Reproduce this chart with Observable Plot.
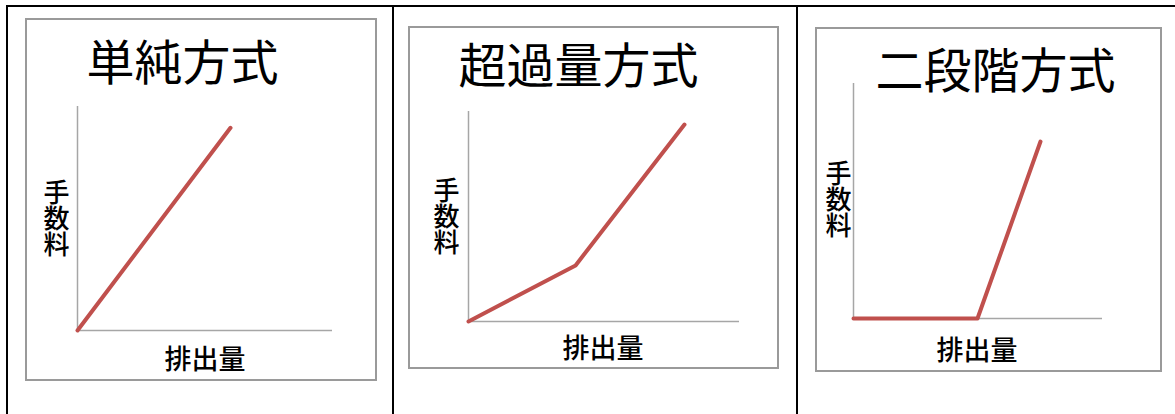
<!DOCTYPE html>
<html><head><meta charset="utf-8">
<script src="https://cdn.jsdelivr.net/npm/d3@7"></script>
<script src="https://cdn.jsdelivr.net/npm/@observablehq/plot@0.6"></script>
<style>
html,body{margin:0;padding:0;background:#fff;}
body{width:1175px;height:414px;position:relative;overflow:hidden;font-family:"Noto Sans CJK JP","Noto Sans",sans-serif;}
.abs{position:absolute;}
.title{font-size:48px;line-height:1;white-space:nowrap;text-align:center;color:#000;font-weight:400;}
.xl{font-size:27px;line-height:1;white-space:nowrap;text-align:center;color:#000;font-weight:500;}
.yl{font-size:26px;line-height:1;writing-mode:vertical-rl;color:#000;font-weight:500;}
</style></head>
<body>
<script>
// ---- data ----
const titles = ["単純方式", "超過量方式", "二段階方式"];
const xLabel = "排出量";
const yLabel = "手数料";
const simpleX = [0, 6];
const simpleY = [0, 9.05];
const excessX = [0, 3.95, 7.97];
const excessY = [0, 2.67, 9.38];
const twoStepX = [0, 4.98, 7.51];
const twoStepY = [0, 0, 7.53];
const seriesX = [simpleX, excessX, twoStepX];
const seriesY = [simpleY, excessY, twoStepY];

// ---- layout (page pixels) ----
const boxes = [
  {l:25, t:18, r:377, b:381},
  {l:408, t:26, r:779, b:369},
  {l:815, t:27, r:1162, b:372}
];
const frames = [
  {x0:77, x1:332, yT:106, yB:330},
  {x0:468, x1:739, yT:111, yB:321},
  {x0:853, x1:1102, yT:83, yB:318}
];
const titlePos = [{cx:182.5, top:40}, {cx:578.5, top:43}, {cx:995.5, top:48}];
const xLabelPos = [{cx:205, top:347}, {cx:603, top:336}, {cx:977, top:338}];
const yLabelPos = [{cx:56, top:181}, {cx:446, top:179}, {cx:838, top:162}];

function add(el){document.body.appendChild(el);return el;}
function div(cls, css){const d=document.createElement("div");d.className="abs "+(cls||"");Object.assign(d.style,css);return add(d);}

// table lines
div("", {left:"6px", top:"5px", width:"1169px", height:"2px", background:"#000"});
[6, 392, 796].forEach(x => div("", {left:x+"px", top:"5px", width:"2px", height:"409px", background:"#000"}));

boxes.forEach((bx, i) => {
  div("", {left:bx.l+"px", top:bx.t+"px", width:(bx.r-bx.l-4)+"px", height:(bx.b-bx.t-4)+"px",
    border:"2px solid #9a9a9a", background:"#fff"});
  const f = frames[i];
  const W = bx.r - bx.l, H = bx.b - bx.t;
  const data = seriesX[i].map((x, j) => ({x, y: seriesY[i][j]}));
  const chart = Plot.plot({
    width: W, height: H,
    marginLeft: f.x0 - bx.l, marginRight: bx.r - f.x1,
    marginTop: f.yT - bx.t, marginBottom: bx.b - f.yB,
    x: {domain: [0, 10], axis: null},
    y: {domain: [0, 10], axis: null},
    style: {background: "transparent", overflow: "visible"},
    marks: [
      Plot.ruleX([0], {stroke: "#a6a6a6", strokeWidth: 1.5}),
      Plot.ruleY([0], {stroke: "#a6a6a6", strokeWidth: 1.5}),
      Plot.line(data, {x: "x", y: "y", stroke: "#c0504d", strokeWidth: 4, strokeLinecap: "round", strokeLinejoin: "round", clip: false})
    ]
  });
  chart.style.position = "absolute";
  chart.style.left = bx.l + "px";
  chart.style.top = bx.t + "px";
  add(chart);

  const t = div("title", {left:(titlePos[i].cx-200)+"px", width:"400px", top:(titlePos[i].top-5)+"px"});
  t.textContent = titles[i];
  const xl = div("xl", {left:(xLabelPos[i].cx-100)+"px", width:"200px", top:(xLabelPos[i].top-3)+"px"});
  xl.textContent = xLabel;
  const yl = div("yl", {left:(yLabelPos[i].cx-13)+"px", top:(yLabelPos[i].top-2)+"px"});
  yl.textContent = yLabel;
});
</script>
</body></html>
